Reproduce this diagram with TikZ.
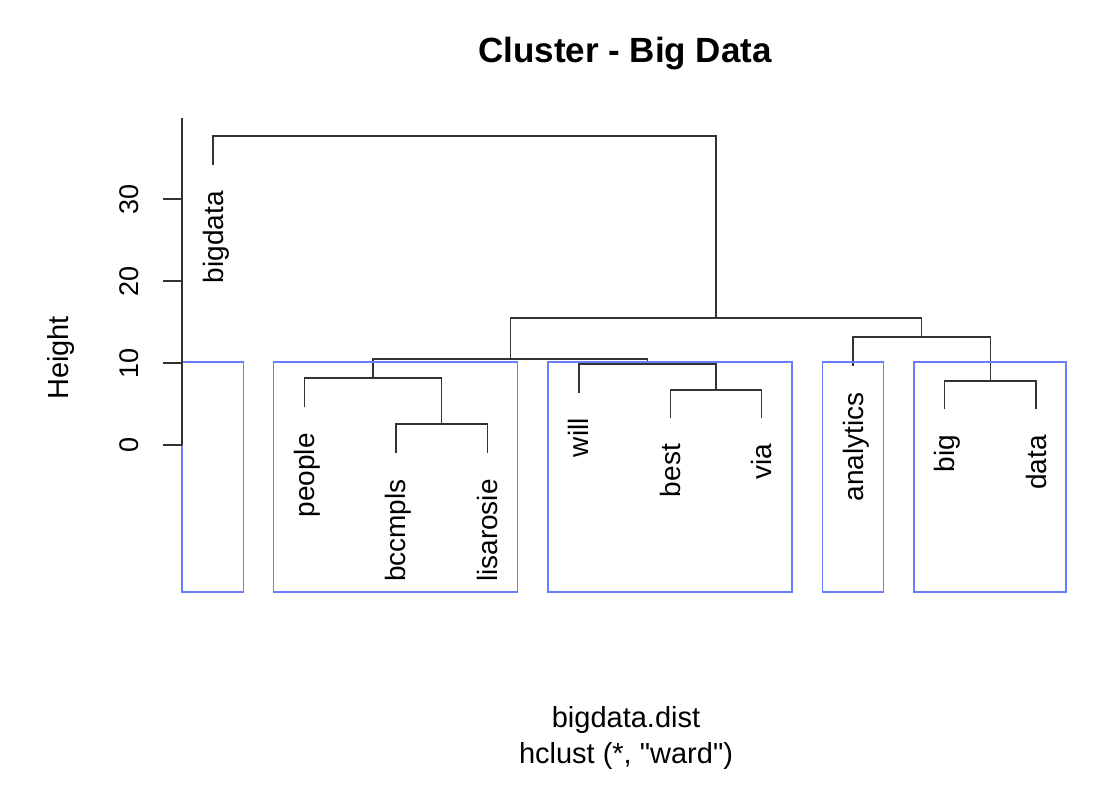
\documentclass[tikz,border=0pt]{standalone}
\usepackage{fontspec}
\setmainfont{Liberation Sans}[Ligatures=TeXOff]
\begin{document}
\begin{tikzpicture}[x=1pt,y=-1pt,
  dend/.style={draw=black!80, line width=1.4pt},
  clrect/.style={draw=clblue, line width=1.6pt},
  leaflab/.style={rotate=90, anchor=base east, inner sep=0pt, font=\fontsize{28}{32}\selectfont},
  ticklab/.style={rotate=90, anchor=base, inner sep=0pt, font=\fontsize{27}{32}\selectfont},
  axlab/.style={anchor=base, inner sep=0pt, font=\fontsize{29}{34}\selectfont}]
\definecolor{clblue}{RGB}{105,125,255}
\useasboundingbox (0,0) rectangle (1114,810);

% merge nodes
\coordinate (m1) at (990.3,381);   % big+data
\coordinate (m2) at (441.6,424);   % bccmpls+lisarosie
\coordinate (m3) at (716,390);     % best+via
\coordinate (m4) at (373,378);     % people+m2
\coordinate (m5) at (647.4,364);   % will+m3
\coordinate (m6) at (921.7,337);   % analytics+m1
\coordinate (m7) at (510.2,359);   % m4+m5
\coordinate (m8) at (716,318);     % m7+m6
\coordinate (m9) at (716,136);     % bigdata+m8

% leaf ends
\coordinate (e1) at (213,165);
\coordinate (e2) at (304.45,407);
\coordinate (e3) at (395.9,453);
\coordinate (e4) at (487.35,453);
\coordinate (e5) at (578.8,393);
\coordinate (e6) at (670.25,418);
\coordinate (e7) at (761.7,418);
\coordinate (e8) at (853.15,366);
\coordinate (e9) at (944.6,409);
\coordinate (e10) at (1036.05,409);

% dendrogram
\draw[dend] (e1) |- (m9) -| (m8);
\draw[dend] (m7) |- (m8) -| (m6);
\draw[dend] (m4) |- (m7) -| (m5);
\draw[dend] (e2) |- (m4) -| (m2);
\draw[dend] (e3) |- (m2) -| (e4);
\draw[dend] (e5) |- (m5) -| (m3);
\draw[dend] (e6) |- (m3) -| (e7);
\draw[dend] (e8) |- (m6) -| (m1);
\draw[dend] (e9) |- (m1) -| (e10);

% cluster rectangles
\draw[clrect] (181.9,592) rectangle (243.5,362);
\draw[clrect] (273.4,592) rectangle (517.5,362);
\draw[clrect] (547.8,592) rectangle (791.9,362);
\draw[clrect] (822.6,592) rectangle (883.3,362);
\draw[clrect] (914.0,592) rectangle (1066.2,362);

% leaf labels
\node[leaflab] (t1) at (223,191) {bigdata};
\node[leaflab] (t2) at (314.45,433) {people};
\node[leaflab] (t3) at (405.9,479) {bccmpls};
\node[leaflab] (t4) at (497.35,479) {lisarosie};
\node[leaflab] (t5) at (588.8,418) {will};
\node[leaflab] (t6) at (680.25,444) {best};
\node[leaflab] (t7) at (771.7,444) {via};
\node[leaflab] (t8) at (863.15,392) {analytics};
\node[leaflab] (t9) at (954.6,435) {big};
\node[leaflab] (t10) at (1046.05,435) {data};

% axis
\coordinate (atop) at (182,118);
\coordinate (abot) at (182,445);
\draw[draw=black!80, line width=1.4pt] (atop) -- (abot);
\foreach \v/\y in {0/445,10/363,20/281,30/199}{
  \coordinate (tk\v) at (182,\y);
  \draw[draw=black!80, line width=1.4pt] (tk\v) -- ++(-19,0);
  \node[ticklab] (tl\v) at (138,\y) {\v};
}
\node[axlab, rotate=90] (ylab) at (68,358) {Height};

% title and subtitle
\node[anchor=base, inner sep=0pt, font=\fontsize{35}{40}\selectfont\bfseries] (title) at (625,63) {Cluster - Big Data};
\node[axlab] (sub1) at (626,727) {bigdata.dist};
\node[axlab] (sub2) at (626,763) {hclust (*, "ward")};
\end{tikzpicture}
\end{document}
